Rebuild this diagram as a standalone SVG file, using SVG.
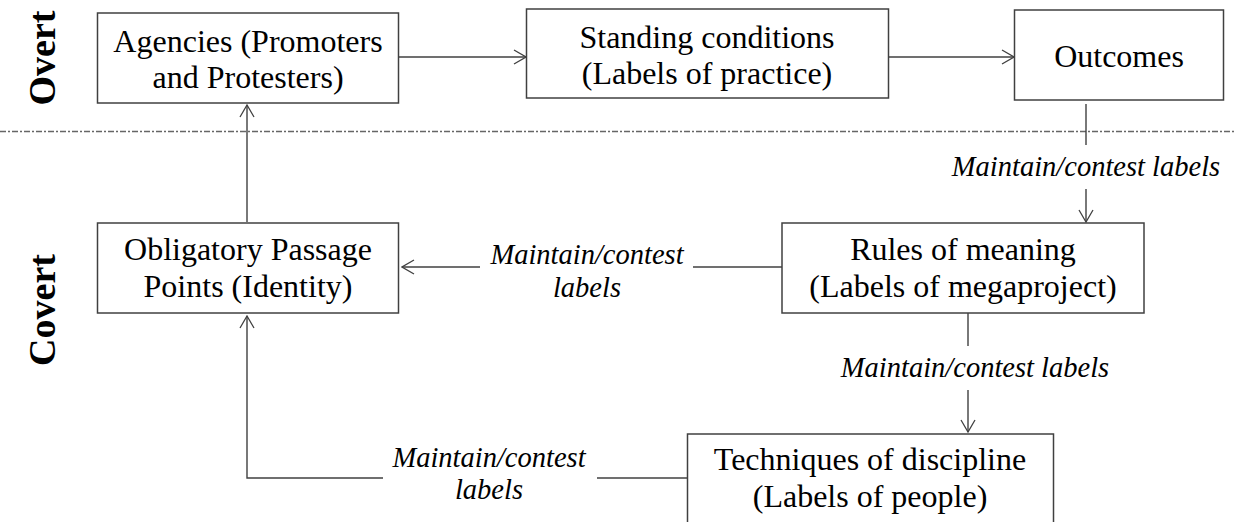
<svg xmlns="http://www.w3.org/2000/svg" width="1235" height="522" viewBox="0 0 1235 522">
<defs>
<style>
.box{fill:#fff;stroke:#404040;stroke-width:1.5}
.t{font-family:"Liberation Serif","Times New Roman",serif;font-size:32px;fill:#000;text-anchor:middle}
.lab{font-family:"Liberation Serif","Times New Roman",serif;font-size:28.5px;font-style:italic;fill:#000;text-anchor:middle}
.side{font-family:"Liberation Serif","Times New Roman",serif;font-size:38px;font-weight:bold;fill:#000;text-anchor:middle}
.c{fill:none;stroke:#404040;stroke-width:1.4}
</style>
<marker id="arr" viewBox="0 0 14 16" refX="13" refY="8" markerWidth="14" markerHeight="16" markerUnits="userSpaceOnUse" orient="auto">
<path d="M1,1 L13,8 L1,15" fill="none" stroke="#404040" stroke-width="1.3"/>
</marker>
</defs>
<rect width="1235" height="522" fill="#fff"/>
<line x1="0" y1="131.5" x2="1235" y2="131.5" stroke="#666" stroke-width="1.4" stroke-dasharray="6,2,2,2"/>
<g id="side-labels">
<text class="side" transform="translate(55,58) rotate(-90)">Overt</text>
<text class="side" transform="translate(55,310) rotate(-90)">Covert</text>
</g>
<g id="connectors">
<line class="c" x1="398" y1="57" x2="526" y2="57" marker-end="url(#arr)"/>
<line class="c" x1="889" y1="57" x2="1014" y2="57" marker-end="url(#arr)"/>
<line class="c" x1="1086" y1="104" x2="1086" y2="145"/>
<line class="c" x1="1086" y1="189" x2="1086" y2="222" marker-end="url(#arr)"/>
<line class="c" x1="782" y1="267" x2="693" y2="267"/>
<line class="c" x1="480" y1="267" x2="402" y2="267" marker-end="url(#arr)"/>
<line class="c" x1="968" y1="313" x2="968" y2="346"/>
<line class="c" x1="968" y1="390" x2="968" y2="432" marker-end="url(#arr)"/>
<polyline class="c" points="687,478 597,478"/>
<polyline class="c" points="383,478 247,478 247,316" marker-end="url(#arr)"/>
<line class="c" x1="247" y1="222" x2="247" y2="105" marker-end="url(#arr)"/>
<text class="lab" x="1086" y="176">Maintain/contest labels</text>
<text class="lab" x="587" y="264">Maintain/contest</text>
<text class="lab" x="587" y="297">labels</text>
<text class="lab" x="975" y="377">Maintain/contest labels</text>
<text class="lab" x="489" y="467">Maintain/contest</text>
<text class="lab" x="489" y="499">labels</text>
</g>
<g id="agencies">
<rect class="box" x="97.5" y="13" width="301" height="90"/>
<text class="t" x="248" y="52">Agencies (Promoters</text>
<text class="t" x="248" y="88">and Protesters)</text>
</g>
<g id="standing">
<rect class="box" x="526.5" y="9" width="362" height="89"/>
<text class="t" x="707" y="48">Standing conditions</text>
<text class="t" x="707" y="84">(Labels of practice)</text>
</g>
<g id="outcomes">
<rect class="box" x="1014.5" y="10" width="209" height="90"/>
<text class="t" x="1119" y="67">Outcomes</text>
</g>
<g id="opp">
<rect class="box" x="97.5" y="223" width="301" height="90"/>
<text class="t" x="248" y="260">Obligatory Passage</text>
<text class="t" x="248" y="297">Points (Identity)</text>
</g>
<g id="rules">
<rect class="box" x="782" y="223" width="362" height="90"/>
<text class="t" x="963" y="260">Rules of meaning</text>
<text class="t" x="963" y="297">(Labels of megaproject)</text>
</g>
<g id="techniques">
<rect class="box" x="687.5" y="434" width="366" height="100"/>
<text class="t" x="870" y="470">Techniques of discipline</text>
<text class="t" x="870" y="507">(Labels of people)</text>
</g>
</svg>
